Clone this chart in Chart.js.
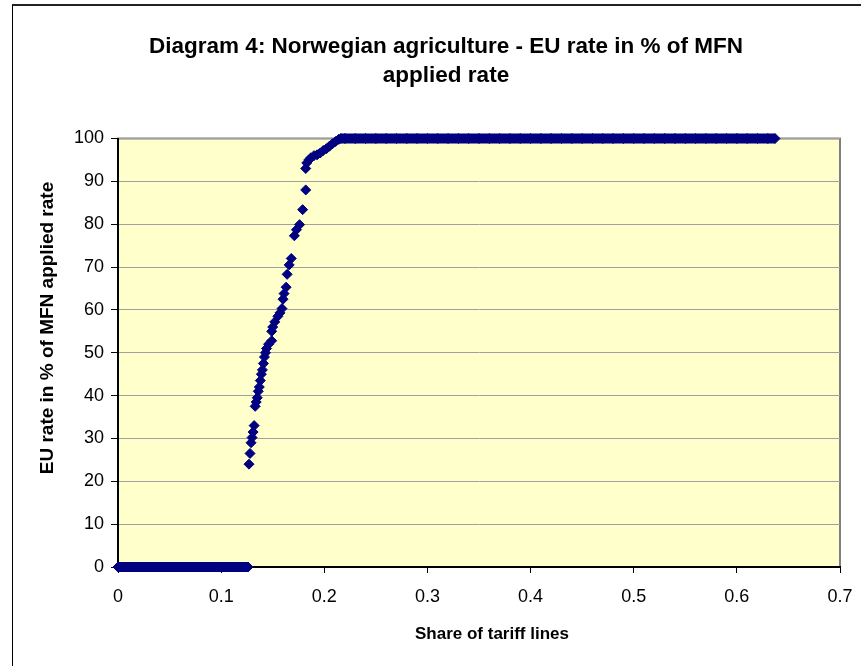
<!DOCTYPE html>
<html>
<head>
<meta charset="utf-8">
<title>Diagram 4</title>
<script src="https://cdn.jsdelivr.net/npm/chart.js@4.4.1/dist/chart.umd.min.js"></script>
<style>
  body { margin: 0; background: #fff; overflow: hidden; }
  #frame { position: absolute; left: 12px; top: 4px; width: 1000px; height: 1000px;
           border-top: 2px solid #222; border-left: 1px solid #000; }
  #wrap { position: absolute; left: 0; top: 0; width: 861px; height: 666px; }
</style>
</head>
<body>
<div id="frame"></div>
<div id="wrap"><canvas id="chart"></canvas></div>
<script>
// Share of tariff lines where the EU rate is 0 % of the MFN rate
const zeroShare = [0, 0.01, 0.02, 0.03, 0.04, 0.05, 0.06, 0.07, 0.08, 0.09, 0.1, 0.11, 0.12, 0.126];

// the steep part, read point by point
const steepShare = [0.127, 0.128, 0.129, 0.130, 0.131, 0.132, 0.133, 0.134, 0.135, 0.136,
  0.137, 0.138, 0.139, 0.140, 0.141, 0.142, 0.143, 0.144, 0.146, 0.149,
  0.149, 0.150, 0.152, 0.155, 0.157, 0.159, 0.160, 0.161, 0.163, 0.164,
  0.166, 0.168, 0.171, 0.173, 0.176, 0.179, 0.182, 0.182, 0.183, 0.185,
  0.187, 0.190, 0.193, 0.196, 0.199, 0.202, 0.205, 0.208, 0.211, 0.214];
const steepRate = [24, 26.5, 29, 30.2, 31.5, 33, 37.5, 38.5, 39.5, 41,
  42, 43.5, 45, 46, 47.5, 49, 50, 51, 52, 52.8,
  55, 56, 57.2, 58.5, 59.3, 60.3, 62.5, 63.8, 65.3, 68.3,
  70.5, 72, 77.3, 78.7, 79.9, 83.4, 88, 93, 94.3, 95,
  95.5, 96, 96.2, 96.6, 97.2, 97.6, 98.2, 98.8, 99.3, 99.8];

// Share of tariff lines where the EU rate equals the MFN rate
const fullShare = [0.216, 0.22, 0.23, 0.24, 0.25, 0.26, 0.27, 0.28, 0.29, 0.3,
  0.31, 0.32, 0.33, 0.34, 0.35, 0.36, 0.37, 0.38, 0.39, 0.4,
  0.41, 0.42, 0.43, 0.44, 0.45, 0.46, 0.47, 0.48, 0.49, 0.5,
  0.51, 0.52, 0.53, 0.54, 0.55, 0.56, 0.57, 0.58, 0.59, 0.6,
  0.61, 0.62, 0.63, 0.637];

const xTicks = [0, 0.1, 0.2, 0.3, 0.4, 0.5, 0.6, 0.7];
const yTicks = [0, 10, 20, 30, 40, 50, 60, 70, 80, 90, 100];

const NAVY = "#000080";
const FONT = "'Liberation Sans', Arial, sans-serif";
const X_TITLE = "Share of tariff lines";
const Y_TITLE = "EU rate in % of MFN applied rate";

// yellow plot area with a grey frame, like the old Excel chart
const plotArea = {
  id: "plotArea",
  beforeDraw(chart) {
    const { ctx, chartArea: a } = chart;
    ctx.save();
    ctx.fillStyle = "#FFFFCC";
    ctx.fillRect(a.left, a.top, a.right - a.left, a.bottom - a.top);
    ctx.strokeStyle = "#808080";
    ctx.lineWidth = 2;
    ctx.strokeRect(a.left, a.top, a.right - a.left, a.bottom - a.top);
    ctx.restore();
  },
};

// axis titles are not centred on the axes in the original, so place them by hand
const axisTitles = {
  id: "axisTitles",
  afterDraw(chart) {
    const { ctx } = chart;
    ctx.save();
    ctx.fillStyle = "#000";
    ctx.textAlign = "center";
    ctx.textBaseline = "middle";
    ctx.font = "bold 17px " + FONT;
    ctx.fillText(X_TITLE, 492, 634);
    ctx.translate(48, 328);
    ctx.rotate(-Math.PI / 2);
    ctx.font = "bold 19px " + FONT;
    ctx.fillText(Y_TITLE, 0, 0);
    ctx.restore();
  },
};

function pointStyle(radius) {
  return {
    pointStyle: "rectRot",
    pointRadius: radius,
    pointHoverRadius: radius,
    pointBackgroundColor: NAVY,
    pointBorderColor: NAVY,
    pointBorderWidth: 1,
    borderColor: NAVY,
    backgroundColor: NAVY,
  };
}

new Chart(document.getElementById("chart"), {
  type: "scatter",
  data: {
    datasets: [
      {
        label: "zero",
        data: zeroShare.map((x) => ({ x: x, y: 0 })),
        showLine: true,
        borderWidth: 10,
        ...pointStyle(5),
      },
      {
        label: "steep",
        data: steepShare.map((x, i) => ({ x: x, y: steepRate[i] })),
        showLine: false,
        ...pointStyle(5),
      },
      {
        label: "full",
        data: fullShare.map((x) => ({ x: x, y: 100 })),
        showLine: true,
        borderWidth: 10,
        ...pointStyle(5),
      },
    ],
  },
  options: {
    responsive: true,
    maintainAspectRatio: false,
    animation: false,
    clip: false,
    layout: { padding: { left: 31, right: 0, top: 0, bottom: 0 } },
    plugins: {
      legend: { display: false },
      tooltip: { enabled: false },
      title: {
        display: true,
        text: ["Diagram 4: Norwegian agriculture - EU rate in % of MFN", "applied rate"],
        color: "#000",
        font: { family: FONT, size: 22.5, weight: "bold", lineHeight: 1.3 },
        padding: { top: 32, bottom: 48 },
      },
    },
    scales: {
      x: {
        type: "linear",
        min: 0,
        max: 0.7,
        afterBuildTicks: (scale) => {
          scale.ticks = xTicks.map((v) => ({ value: v }));
        },
        afterFit: (scale) => {
          scale.height = 99;
          scale.paddingLeft = 0;
          scale.paddingRight = 0;
        },
        ticks: {
          color: "#000",
          font: { family: FONT, size: 18 },
          padding: 13,
          maxRotation: 0,
          callback: (v) => String(Math.round(v * 10) / 10),
        },
        grid: { drawOnChartArea: false, drawTicks: true, tickLength: 6, tickColor: "#000" },
        border: { color: "#000", width: 2 },
      },
      y: {
        min: 0,
        max: 100,
        afterBuildTicks: (scale) => {
          scale.ticks = yTicks.map((v) => ({ value: v }));
        },
        afterFit: (scale) => {
          scale.width = 87;
        },
        ticks: {
          color: "#000",
          font: { family: FONT, size: 18 },
          padding: 7,
        },
        grid: { color: "#A0A0A0", lineWidth: 1, tickLength: 7, tickColor: "#000" },
        border: { color: "#000", width: 2 },
      },
      right: {
        position: "right",
        display: true,
        afterFit: (scale) => {
          scale.width = 21;
        },
        ticks: { display: false },
        grid: { display: false },
        border: { display: false },
      },
    },
  },
  plugins: [plotArea, axisTitles],
});
</script>
</body>
</html>
